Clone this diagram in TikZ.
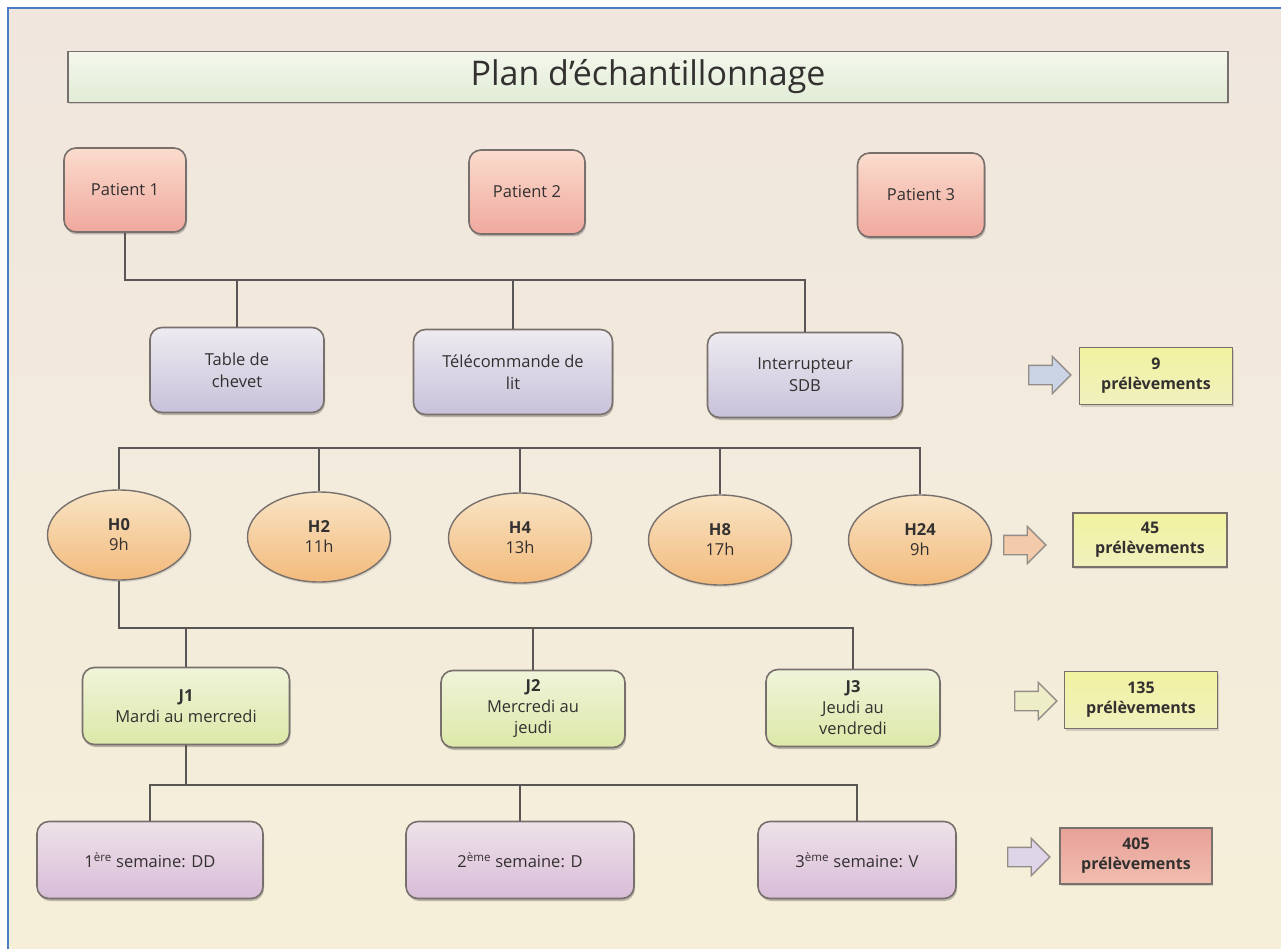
\documentclass[tikz,border=0pt]{standalone}
\usepackage{fontspec}
\setmainfont{Open Sans}
\usetikzlibrary{shapes.geometric,shapes.arrows,shadows}

\definecolor{bgtop}{HTML}{F0E6DE}
\definecolor{bgbot}{HTML}{F5EFD9}
\definecolor{frameblue}{HTML}{4A7CC4}
\definecolor{edge}{HTML}{77706C}
\definecolor{ink}{HTML}{333030}
\definecolor{wire}{HTML}{5A5656}

\tikzset{
  basebox/.style={draw=edge, line width=1.6pt, rounded corners=12pt, text=ink,
    align=center, inner sep=2pt,
    drop shadow={shadow xshift=1pt, shadow yshift=-2.5pt, opacity=0.35, fill=black!70},
    font=\fontsize{16.5}{22}\selectfont},
  titlebox/.style={draw=edge, line width=1.8pt,
    top color={rgb,255:red,243;green,247;blue,236}, bottom color={rgb,255:red,226;green,236;blue,214},
    text=ink, minimum width=1160pt, minimum height=51pt,
    drop shadow={shadow xshift=1pt, shadow yshift=-2pt, opacity=0.3},
    font=\fontsize{34}{38}\selectfont},
  patientbox/.style={basebox, top color={rgb,255:red,250;green,220;blue,205}, bottom color={rgb,255:red,240;green,168;blue,158},
    minimum height=84pt},
  objbox/.style={basebox, top color={rgb,255:red,238;green,235;blue,240}, bottom color={rgb,255:red,200;green,193;blue,218},
    minimum height=85pt},
  hourell/.style={ellipse, draw=edge, line width=1.4pt, text=ink, align=center, inner sep=0pt,
    top color={rgb,255:red,248;green,228;blue,196}, bottom color={rgb,255:red,243;green,186;blue,124},
    minimum width=143pt, minimum height=90pt,
    drop shadow={shadow xshift=1pt, shadow yshift=-2pt, opacity=0.25},
    font=\fontsize{16.5}{20}\selectfont},
  daybox/.style={basebox, top color={rgb,255:red,240;green,244;blue,218}, bottom color={rgb,255:red,220;green,232;blue,168},
    minimum height=77pt, font=\fontsize{16.5}{21}\selectfont},
  weekbox/.style={basebox, top color={rgb,255:red,238;green,226;blue,232}, bottom color={rgb,255:red,216;green,188;blue,216},
    minimum height=77pt},
  countbox/.style={draw=edge, line width=1.5pt, text=ink, align=center, inner sep=1pt,
    drop shadow={shadow xshift=1pt, shadow yshift=-2pt, opacity=0.3},
    font=\fontsize{16}{20}\selectfont\bfseries},
  yellowcount/.style={countbox, top color={rgb,255:red,242;green,242;blue,160}, bottom color={rgb,255:red,240;green,241;blue,190}},
  redcount/.style={countbox, top color={rgb,255:red,232;green,160;blue,152}, bottom color={rgb,255:red,241;green,190;blue,176}},
  blockarrow/.style={single arrow, draw=edge!80, line width=1.3pt, inner sep=9pt,
    single arrow head extend=9pt, minimum height=42pt, single arrow head indent=0pt},
  conn/.style={draw=wire, line width=1.6pt}
}

\begin{document}
\begin{tikzpicture}[x=1pt,y=-1pt]
\useasboundingbox (0,0) rectangle (1281,949);

% page background and frame
\fill[white] (0,0) rectangle (1281,949);
\shade[top color=bgtop, bottom color=bgbot] (8,8) rectangle (1281,949);
\draw[frameblue, line width=2pt] (1281,8) -- (8,8) -- (8,949);

% title
\node[titlebox] (title) at (648,77) {Plan d’échantillonnage};

% patients
\node[patientbox, minimum width=122pt] (p1) at (125,190) {Patient 1};
\node[patientbox, minimum width=116pt] (p2) at (527,192) {Patient 2};
\node[patientbox, minimum width=127pt] (p3) at (921,195) {Patient 3};

% sampled surfaces
\node[objbox, minimum width=174pt] (tab) at (237,370) {Table de\\chevet};
\node[objbox, minimum width=199pt] (tele) at (513,372) {Télécommande de\\lit};
\node[objbox, minimum width=195pt] (inter) at (805,375) {Interrupteur\\SDB};

% sampling hours
\node[hourell] (h0) at (119,535) {\textbf{H0}\\9h};
\node[hourell] (h2) at (319,537) {\textbf{H2}\\11h};
\node[hourell] (h4) at (520,538) {\textbf{H4}\\13h};
\node[hourell] (h8) at (720,540) {\textbf{H8}\\17h};
\node[hourell] (h24) at (920,540) {\textbf{H24}\\9h};

% days
\node[daybox, minimum width=207pt] (j1) at (186,706) {\textbf{J1}\\Mardi au mercredi};
\node[daybox, minimum width=184pt] (j2) at (533,709) {\textbf{J2}\\Mercredi au\\jeudi};
\node[daybox, minimum width=174pt] (j3) at (853,708) {\textbf{J3}\\Jeudi au\\vendredi};

% weeks
\node[weekbox, minimum width=226pt] (s1) at (150,860) {1\textsuperscript{ère} semaine: DD};
\node[weekbox, minimum width=228pt] (s2) at (520,860) {2\textsuperscript{ème} semaine: D};
\node[weekbox, minimum width=198pt] (s3) at (857,860) {3\textsuperscript{ème} semaine: V};

% totals
\node[blockarrow, fill={rgb,255:red,203;green,212;blue,228}] (a1) at (1045,375) {};
\node[yellowcount, minimum width=153pt, minimum height=57pt] (c1) at (1156,376) {9\\prélèvements};
\node[blockarrow, fill={rgb,255:red,243;green,202;blue,170}] (a2) at (1020,545) {};
\node[yellowcount, minimum width=154pt, minimum height=54pt] (c2) at (1150,540) {45\\prélèvements};
\node[blockarrow, fill={rgb,255:red,237;green,238;blue,200}] (a3) at (1031,701) {};
\node[yellowcount, minimum width=153pt, minimum height=57pt] (c3) at (1141,700) {135\\prélèvements};
\node[blockarrow, fill={rgb,255:red,222;green,214;blue,232}] (a4) at (1024,857) {};
\node[redcount, minimum width=152pt, minimum height=56pt] (c4) at (1136,856) {405\\prélèvements};

% tree connectors
\coordinate (bus1) at (0,280);
\coordinate (bus2) at (0,448);
\coordinate (bus3) at (0,628);
\coordinate (bus4) at (0,785);

\draw[conn] (p1.south) -- (p1.south |- bus1) -| (inter.north);
\draw[conn] (tab.north) -- (tab.north |- bus1);
\draw[conn] (tele.north) -- (tele.north |- bus1);

\draw[conn] (h0.north) -- (h0.north |- bus2) -| (h24.north);
\draw[conn] (h2.north) -- (h2.north |- bus2);
\draw[conn] (h4.north) -- (h4.north |- bus2);
\draw[conn] (h8.north) -- (h8.north |- bus2);

\draw[conn] (h0.south) -- (h0.south |- bus3) -| (j3.north);
\draw[conn] (j1.north) -- (j1.north |- bus3);
\draw[conn] (j2.north) -- (j2.north |- bus3);

\draw[conn] (s1.north) -- (s1.north |- bus4) -| (s3.north);
\draw[conn] (j1.south) -- (j1.south |- bus4);
\draw[conn] (s2.north) -- (s2.north |- bus4);
\end{tikzpicture}
\end{document}
